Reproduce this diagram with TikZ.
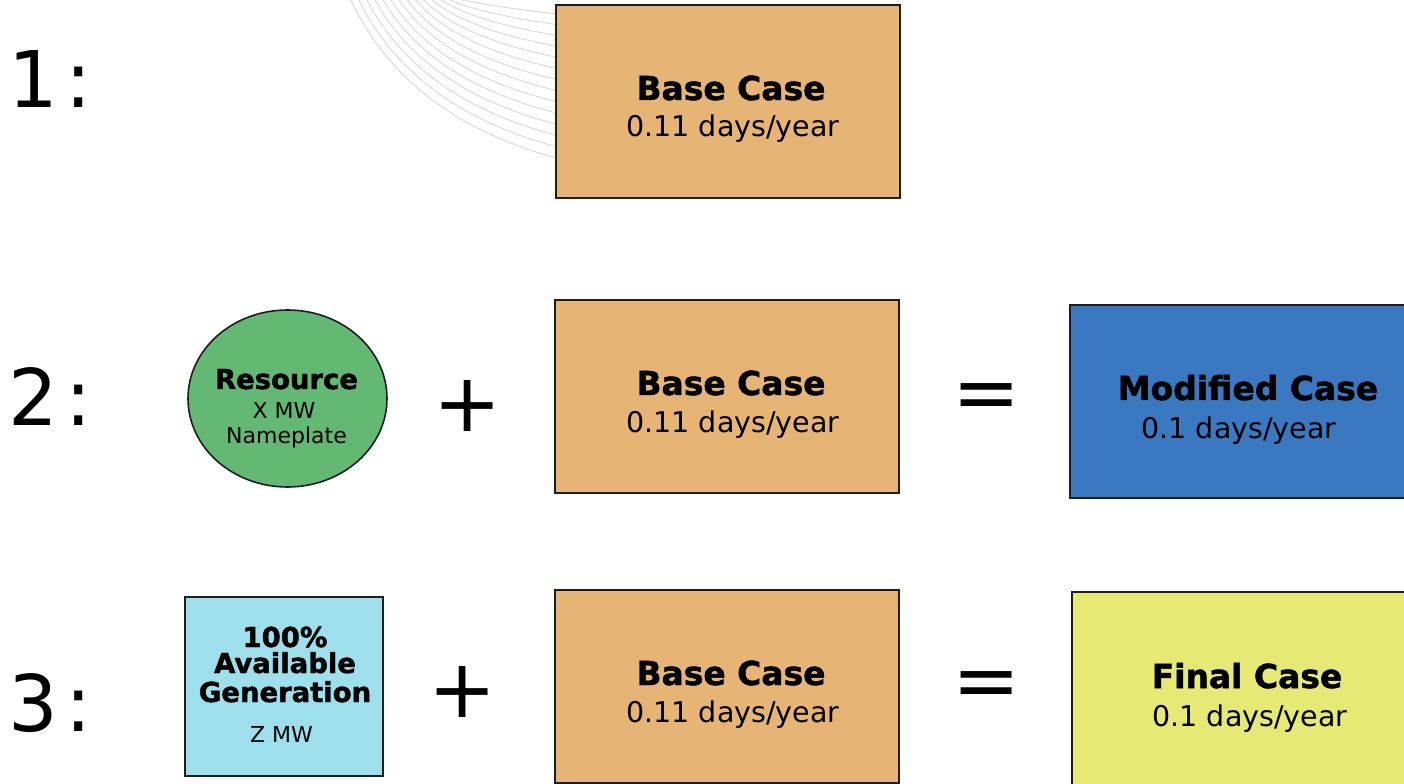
\documentclass[tikz,border=0pt]{standalone}
\usepackage{fontspec}
\setmainfont{DejaVu Sans}[BoldFeatures={FakeBold=1.5}]
\usetikzlibrary{shapes.geometric}
\definecolor{basefill}{RGB}{230,180,117}
\definecolor{resfill}{RGB}{99,184,115}
\definecolor{genfill}{RGB}{158,223,236}
\definecolor{modfill}{RGB}{58,120,194}
\definecolor{finfill}{RGB}{231,233,117}
\definecolor{arcgray}{RGB}{220,220,220}
\definecolor{edge}{RGB}{30,30,30}
\begin{document}
\begin{tikzpicture}[x=0.75pt,y=-0.75pt,
  casebox/.style={rectangle, draw=edge, line width=1.2pt, inner sep=0pt, minimum height=144.75pt},
  title/.style={font=\bfseries\fontsize{24.7}{28}\selectfont, anchor=base, inner sep=0pt},
  sub/.style={font=\fontsize{21.4}{26}\selectfont, anchor=base, inner sep=0pt},
  stitle/.style={font=\bfseries\fontsize{20.6}{24}\selectfont, anchor=base, inner sep=0pt},
  ssub/.style={font=\fontsize{16.5}{20}\selectfont, anchor=base, inner sep=0pt},
  op/.style={font=\fontsize{61}{61}\selectfont, inner sep=0pt, anchor=center},
  rowlabel/.style={font=\fontsize{58.6}{60}\selectfont, inner sep=0pt, anchor=base west},
  bgarc/.style={draw=arcgray, line width=0.8pt}
]
\useasboundingbox (0,0) rectangle (1404,784);
\clip (0,0) rectangle (1404,784);

% faint background arcs
\foreach \i in {0,...,13} {
  \draw[bgarc] (350+8*\i,-2) .. controls (382+7*\i,68-5*\i) and (450+5*\i,140-10*\i) .. (600,168-11.5*\i);
}

% row labels
\node[rowlabel] (l1) at (8,108) {1\kern6pt:};
\node[rowlabel] (l2) at (8,426) {2\kern6pt:};
\node[rowlabel] (l3) at (8,731) {3\kern6pt:};

% row 1
\node[casebox, fill=basefill, minimum width=258pt] (b1) at (728,101.5) {};
\node[title] (b1t) at (731,100) {Base Case};
\node[sub] (b1s) at (733,137) {0.11 days/year};

% row 2
\node[ellipse, draw=edge, line width=1.2pt, fill=resfill, inner sep=0pt,
      minimum width=149.25pt, minimum height=132.75pt] (res) at (287.5,398.5) {};
\node[stitle] (rest) at (286.5,389) {Resource};
\node[ssub] (resx) at (284,418) {X MW};
\node[ssub] (resn) at (286.5,444) {Nameplate};
\node[op] (p2) at (467.5,406) {+};
\node[casebox, fill=basefill, minimum width=258pt] (b2) at (727,396.5) {};
\node[title] (b2t) at (731,395) {Base Case};
\node[sub] (b2s) at (733,432) {0.11 days/year};
\node[op] (e2) at (987,402) {=};
\node[casebox, fill=modfill, minimum width=267pt] (mod) at (1248,401.5) {};
\node[title] (modt) at (1248,400) {Modified Case};
\node[sub] (mods) at (1239,438) {0.1 days/year};

% row 3
\node[rectangle, draw=edge, line width=1.2pt, fill=genfill, inner sep=0pt,
      minimum width=148.5pt, minimum height=134.25pt] (gen) at (284,686.5) {};
\node[stitle] (gen1) at (285,647) {100\%};
\node[stitle] (gen2) at (285,673) {Available};
\node[stitle] (gen3) at (285,702) {Generation};
\node[ssub] (genz) at (281.5,742) {Z MW};
\node[op] (p3) at (463,692) {+};
\node[casebox, fill=basefill, minimum width=258pt] (b3) at (727,686.5) {};
\node[title] (b3t) at (731,685) {Base Case};
\node[sub] (b3s) at (733,722) {0.11 days/year};
\node[op] (e3) at (987,690) {=};
\node[casebox, fill=finfill, minimum width=262.5pt] (fin) at (1247,688.5) {};
\node[title] (fint) at (1247,688) {Final Case};
\node[sub] (fins) at (1250,726) {0.1 days/year};
\end{tikzpicture}
\end{document}
